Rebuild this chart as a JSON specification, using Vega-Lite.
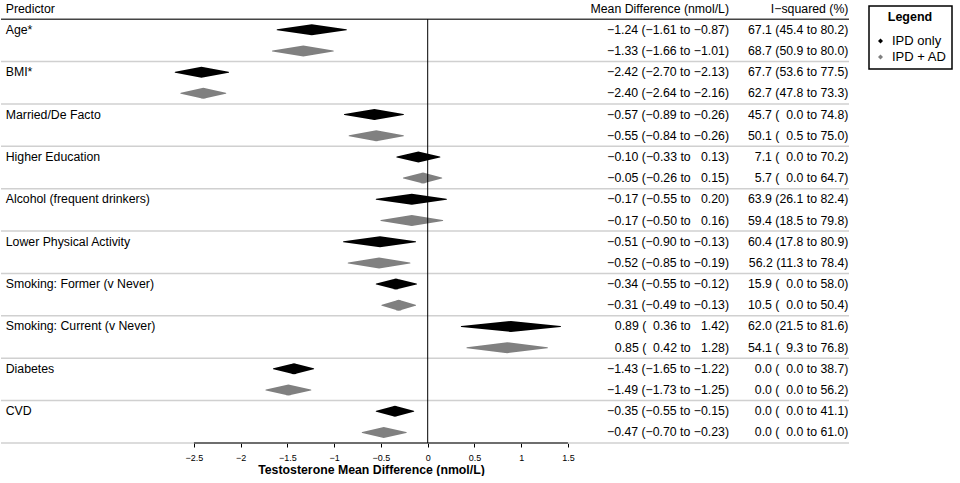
{
  "$schema": "https://vega.github.io/schema/vega-lite/v6.json",
  "width": 848,
  "height": 443,
  "padding": 0,
  "config": {
    "font": "Liberation Sans",
    "view": {"stroke": null},
    "text": {"font": "Liberation Sans", "fontSize": 12.3, "color": "black"}
  },
  "data": {
    "values": [
      {"id": "Age*|IPD only", "pred": "Age*", "grp": "IPD only", "est": -1.24, "lo": -1.61, "hi": -0.87, "md": "\u22121.24 (\u22121.61 to \u22120.87)", "i2": "67.1 (45.4 to 80.2)"},
      {"id": "Age*|IPD + AD", "pred": "Age*", "grp": "IPD + AD", "est": -1.33, "lo": -1.66, "hi": -1.01, "md": "\u22121.33 (\u22121.66 to \u22121.01)", "i2": "68.7 (50.9 to 80.0)"},
      {"id": "BMI*|IPD only", "pred": "BMI*", "grp": "IPD only", "est": -2.42, "lo": -2.70, "hi": -2.13, "md": "\u22122.42 (\u22122.70 to \u22122.13)", "i2": "67.7 (53.6 to 77.5)"},
      {"id": "BMI*|IPD + AD", "pred": "BMI*", "grp": "IPD + AD", "est": -2.40, "lo": -2.64, "hi": -2.16, "md": "\u22122.40 (\u22122.64 to \u22122.16)", "i2": "62.7 (47.8 to 73.3)"},
      {"id": "Married|IPD only", "pred": "Married/De Facto", "grp": "IPD only", "est": -0.57, "lo": -0.89, "hi": -0.26, "md": "\u22120.57 (\u22120.89 to \u22120.26)", "i2": "45.7 (\u20070.0 to 74.8)"},
      {"id": "Married|IPD + AD", "pred": "Married/De Facto", "grp": "IPD + AD", "est": -0.55, "lo": -0.84, "hi": -0.26, "md": "\u22120.55 (\u22120.84 to \u22120.26)", "i2": "50.1 (\u20070.5 to 75.0)"},
      {"id": "HigherEd|IPD only", "pred": "Higher Education", "grp": "IPD only", "est": -0.10, "lo": -0.33, "hi": 0.13, "md": "\u22120.10 (\u22120.33 to \u20070.13)", "i2": "7.1 (\u20070.0 to 70.2)"},
      {"id": "HigherEd|IPD + AD", "pred": "Higher Education", "grp": "IPD + AD", "est": -0.05, "lo": -0.26, "hi": 0.15, "md": "\u22120.05 (\u22120.26 to \u20070.15)", "i2": "5.7 (\u20070.0 to 64.7)"},
      {"id": "Alcohol|IPD only", "pred": "Alcohol (frequent drinkers)", "grp": "IPD only", "est": -0.17, "lo": -0.55, "hi": 0.20, "md": "\u22120.17 (\u22120.55 to \u20070.20)", "i2": "63.9 (26.1 to 82.4)"},
      {"id": "Alcohol|IPD + AD", "pred": "Alcohol (frequent drinkers)", "grp": "IPD + AD", "est": -0.17, "lo": -0.50, "hi": 0.16, "md": "\u22120.17 (\u22120.50 to \u20070.16)", "i2": "59.4 (18.5 to 79.8)"},
      {"id": "LPA|IPD only", "pred": "Lower Physical Activity", "grp": "IPD only", "est": -0.51, "lo": -0.90, "hi": -0.13, "md": "\u22120.51 (\u22120.90 to \u22120.13)", "i2": "60.4 (17.8 to 80.9)"},
      {"id": "LPA|IPD + AD", "pred": "Lower Physical Activity", "grp": "IPD + AD", "est": -0.52, "lo": -0.85, "hi": -0.19, "md": "\u22120.52 (\u22120.85 to \u22120.19)", "i2": "56.2 (11.3 to 78.4)"},
      {"id": "Former|IPD only", "pred": "Smoking: Former (v Never)", "grp": "IPD only", "est": -0.34, "lo": -0.55, "hi": -0.12, "md": "\u22120.34 (\u22120.55 to \u22120.12)", "i2": "15.9 (\u20070.0 to 58.0)"},
      {"id": "Former|IPD + AD", "pred": "Smoking: Former (v Never)", "grp": "IPD + AD", "est": -0.31, "lo": -0.49, "hi": -0.13, "md": "\u22120.31 (\u22120.49 to \u22120.13)", "i2": "10.5 (\u20070.0 to 50.4)"},
      {"id": "Current|IPD only", "pred": "Smoking: Current (v Never)", "grp": "IPD only", "est": 0.89, "lo": 0.36, "hi": 1.42, "md": "0.89 (\u20070.36 to \u20071.42)", "i2": "62.0 (21.5 to 81.6)"},
      {"id": "Current|IPD + AD", "pred": "Smoking: Current (v Never)", "grp": "IPD + AD", "est": 0.85, "lo": 0.42, "hi": 1.28, "md": "0.85 (\u20070.42 to \u20071.28)", "i2": "54.1 (\u20079.3 to 76.8)"},
      {"id": "Diabetes|IPD only", "pred": "Diabetes", "grp": "IPD only", "est": -1.43, "lo": -1.65, "hi": -1.22, "md": "\u22121.43 (\u22121.65 to \u22121.22)", "i2": "0.0 (\u20070.0 to 38.7)"},
      {"id": "Diabetes|IPD + AD", "pred": "Diabetes", "grp": "IPD + AD", "est": -1.49, "lo": -1.73, "hi": -1.25, "md": "\u22121.49 (\u22121.73 to \u22121.25)", "i2": "0.0 (\u20070.0 to 56.2)"},
      {"id": "CVD|IPD only", "pred": "CVD", "grp": "IPD only", "est": -0.35, "lo": -0.55, "hi": -0.15, "md": "\u22120.35 (\u22120.55 to \u22120.15)", "i2": "0.0 (\u20070.0 to 41.1)"},
      {"id": "CVD|IPD + AD", "pred": "CVD", "grp": "IPD + AD", "est": -0.47, "lo": -0.70, "hi": -0.23, "md": "\u22120.47 (\u22120.70 to \u22120.23)", "i2": "0.0 (\u20070.0 to 61.0)"}
    ]
  },
  "layer": [
    {
      "transform": [{"filter": "datum.grp === 'IPD + AD'"}],
      "mark": {"type": "rule", "color": "#d0d0d0", "strokeWidth": 1.5},
      "encoding": {
        "y": {
          "field": "id", "type": "nominal", "bandPosition": 1, "axis": null,
          "scale": {
            "type": "band",
            "domain": ["header", "Age*|IPD only", "Age*|IPD + AD", "BMI*|IPD only", "BMI*|IPD + AD", "Married|IPD only", "Married|IPD + AD", "HigherEd|IPD only", "HigherEd|IPD + AD", "Alcohol|IPD only", "Alcohol|IPD + AD", "LPA|IPD only", "LPA|IPD + AD", "Former|IPD only", "Former|IPD + AD", "Current|IPD only", "Current|IPD + AD", "Diabetes|IPD only", "Diabetes|IPD + AD", "CVD|IPD only", "CVD|IPD + AD"],
            "range": [-2, 443],
            "paddingInner": 0,
            "paddingOuter": 0
          }
        }
      }
    },
    {
      "data": {"values": [{}]},
      "mark": {"type": "rule", "color": "#444444", "strokeWidth": 1.5},
      "encoding": {"y": {"datum": "header", "bandPosition": 1, "axis": null}}
    },
    {
      "transform": [{"fold": ["lo", "est", "hi"], "as": ["key", "value"]}],
      "mark": {"type": "trail"},
      "encoding": {
        "x": {
          "field": "value", "type": "quantitative",
          "scale": {"domain": [-4.5636, 4.5059], "nice": false, "zero": false},
          "axis": {
            "values": [-2.5, -2, -1.5, -1, -0.5, 0, 0.5, 1, 1.5],
            "format": "~g",
            "domain": false,
            "grid": false,
            "ticks": true, "tickSize": 4, "tickColor": "black", "tickWidth": 1,
            "labelFontSize": 9, "labelColor": "black", "labelPadding": 6, "labelFont": "Liberation Sans",
            "title": "Testosterone Mean Difference (nmol/L)",
            "titleFontSize": 12.3, "titleFontWeight": "bold", "titleColor": "black", "titleFont": "Liberation Sans",
            "titleX": 370, "titlePadding": 1.5
          }
        },
        "y": {"field": "id", "type": "nominal", "axis": null},
        "detail": {"field": "id"},
        "order": {"field": "value", "type": "quantitative"},
        "size": {"field": "key", "type": "ordinal", "scale": {"type": "ordinal", "domain": ["lo", "est", "hi"], "range": [0, 11, 0]}, "legend": null},
        "color": {
          "field": "grp", "type": "nominal",
          "scale": {"domain": ["IPD only", "IPD + AD"], "range": ["#000000", "#808080"]},
          "legend": {
            "title": "Legend", "orient": "none", "legendX": 868, "legendY": 6,
            "strokeColor": "black", "padding": 5,
            "titleAnchor": "middle", "titleFontSize": 12.5, "titleFontWeight": "bold", "titleColor": "black", "titlePadding": 11,
            "labelFontSize": 13, "labelColor": "black", "labelOffset": 5,
            "symbolType": "diamond", "symbolSize": 25, "rowPadding": 2,
            "encode": {
              "legend": {"update": {"strokeWidth": {"value": 1.5}}},
              "symbols": {"update": {"fill": {"scale": "color", "field": "value"}, "strokeWidth": {"value": 0}}}
            }
          }
        }
      }
    },
    {
      "data": {"values": [{}]},
      "mark": {"type": "rule", "color": "black", "strokeWidth": 1},
      "encoding": {
        "x": {"datum": 0},
        "y": {"datum": "header", "bandPosition": 1, "axis": null},
        "y2": {"value": "height"}
      }
    },
    {
      "data": {"values": [{}]},
      "mark": {"type": "rule", "color": "black", "strokeWidth": 1},
      "encoding": {
        "x": {"datum": -2.5},
        "x2": {"datum": 1.5},
        "y": {"value": "height"}
      }
    },
    {
      "transform": [{"filter": "datum.grp === 'IPD only'"}],
      "mark": {"type": "text", "align": "left"},
      "encoding": {
        "x": {"datum": -4.513},
        "y": {"field": "id", "type": "nominal", "axis": null},
        "text": {"field": "pred"}
      }
    },
    {
      "mark": {"type": "text", "align": "right"},
      "encoding": {
        "x": {"datum": 3.2225},
        "y": {"field": "id", "type": "nominal", "axis": null},
        "text": {"field": "md"}
      }
    },
    {
      "mark": {"type": "text", "align": "right"},
      "encoding": {
        "x": {"datum": 4.5},
        "y": {"field": "id", "type": "nominal", "axis": null},
        "text": {"field": "i2"}
      }
    },
    {
      "data": {"values": [{}]},
      "mark": {"type": "text", "align": "left"},
      "encoding": {
        "x": {"datum": -4.513},
        "y": {"datum": "header", "axis": null},
        "text": {"value": "Predictor"}
      }
    },
    {
      "data": {"values": [{}]},
      "mark": {"type": "text", "align": "right"},
      "encoding": {
        "x": {"datum": 3.2225},
        "y": {"datum": "header", "axis": null},
        "text": {"value": "Mean Difference (nmol/L)"}
      }
    },
    {
      "data": {"values": [{}]},
      "mark": {"type": "text", "align": "right"},
      "encoding": {
        "x": {"datum": 4.5},
        "y": {"datum": "header", "axis": null},
        "text": {"value": "I\u2212squared (%)"}
      }
    }
  ]
}
